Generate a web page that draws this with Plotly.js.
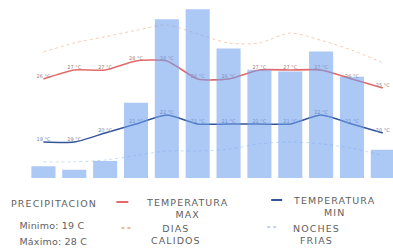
<!DOCTYPE html>
<html>
<head>
<meta charset="utf-8">
<script src="https://cdn.plot.ly/plotly-3.0.1.min.js"></script>
<style>
html,body{margin:0;padding:0;background:#fff;}
#chart{width:393px;height:250px;}
.annotation-text{letter-spacing:1.1px;}
.annotation[data-index="1"] .annotation-text,
.annotation[data-index="2"] .annotation-text{letter-spacing:0.2px;}
</style>
</head>
<body>
<div id="chart"></div>
<script>
// ---- data ----
const months = ['Ene','Feb','Mar','Abr','May','Jun','Jul','Ago','Sep','Oct','Nov','Dic'];
const precipitacion = [20, 14, 29, 128, 270, 287, 220, 184, 181, 215, 172, 48];
const tempMax = [26, 27, 27, 28, 28, 26, 26, 27, 27, 27, 26, 25];
const tempMin = [19, 19, 20, 21, 22, 21, 21, 21, 21, 22, 21, 20];
const diasCalidos = [29, 30, 30.7, 31.4, 32, 31, 30, 30, 31.1, 30.3, 29.2, 27.8];
const nochesFrias = [16.8, 16.8, 17, 17.5, 18, 18, 18.2, 18.8, 19, 18.8, 18.3, 17.5];
const legendText = {
  precip: 'PRECIPITACION',
  minimo: 'Minimo: 19 C',
  maximo: 'Máximo: 28 C',
  tmax: 'TEMPERATURA<br>MAX',
  tmin: 'TEMPERATURA<br>MIN',
  calidos: 'DIAS<br>CALIDOS',
  frias: 'NOCHES<br>FRIAS'
};

// ---- layout helpers (pixel -> paper) ----
const W = 393, H = 250, ML = 27.5, MR = 0, MT = 5, MB = 72;
const PW = W - ML - MR, PH = H - MT - MB;
const px = x => (x - ML) / PW;
const py = y => (H - MB - y) / PH;

const fmt = v => v + ' °C';
const textGray = '#5f5f5f';

const traces = [
  {x: months, y: diasCalidos, type: 'scatter', mode: 'lines',
   line: {color: '#f0a27a', width: 1, dash: 'dot', shape: 'spline', smoothing: 0.8},
   opacity: 0.55, hoverinfo: 'skip'},
  {x: months, y: nochesFrias, type: 'scatter', mode: 'lines',
   line: {color: '#a9c8ec', width: 1, dash: 'dot', shape: 'spline', smoothing: 0.8},
   opacity: 0.6, hoverinfo: 'skip'},
  {x: months, y: tempMax, type: 'scatter', mode: 'lines+text',
   text: tempMax.map(fmt), textposition: 'top center',
   textfont: {family: 'DejaVu Sans', size: 5, color: '#a08080'},
   line: {color: '#e36a6a', width: 1.6, shape: 'spline', smoothing: 0.6}},
  {x: months, y: tempMin, type: 'scatter', mode: 'lines+text',
   text: tempMin.map(fmt), textposition: 'top center',
   textfont: {family: 'DejaVu Sans', size: 5, color: '#7a80a0'},
   line: {color: '#34549a', width: 1.5, shape: 'spline', smoothing: 0.6}},
  {x: months, y: precipitacion, type: 'bar', yaxis: 'y2',
   marker: {color: 'rgba(112,160,238,0.58)', line: {width: 0}}}
];

const ann = (text, x, y, xanchor, size) => ({
  text, x: px(x), y: py(y), xref: 'paper', yref: 'paper',
  xanchor, yanchor: 'middle', showarrow: false, align: 'center',
  font: {family: 'DejaVu Sans', size, color: textGray}
});

const seg = (x0, x1, y, color, width, dash) => ({
  type: 'line', xref: 'paper', yref: 'paper',
  x0: px(x0), x1: px(x1), y0: py(y), y1: py(y),
  line: {color, width, dash}
});

const layout = {
  width: W, height: H,
  margin: {l: ML, r: MR, t: MT, b: MB, pad: 0},
  paper_bgcolor: '#fff', plot_bgcolor: 'rgba(0,0,0,0)',
  showlegend: false,
  bargap: 0.22,
  xaxis: {type: 'category', range: [-0.5, 11.33], visible: false, fixedrange: true},
  yaxis: {range: [15, 34.22], visible: false, fixedrange: true},
  yaxis2: {range: [0, 294.1], overlaying: 'y', visible: false, fixedrange: true},
  annotations: [
    ann(legendText.precip, 8, 203, 'left', 9.5),
    ann(legendText.minimo, 11, 226, 'left', 9.5),
    ann(legendText.maximo, 11, 241, 'left', 9.5),
    ann(legendText.tmax, 187, 208, 'center', 9.5),
    ann(legendText.calidos, 176, 234, 'center', 9.5),
    ann(legendText.tmin, 334, 206, 'center', 9.5),
    ann(legendText.frias, 316, 234, 'center', 9.5)
  ],
  shapes: [
    seg(116, 128, 202, '#e36a6a', 2, 'solid'),
    seg(121, 133, 228, '#f0a27a', 1.5, 'dot'),
    seg(271, 282, 200, '#34549a', 2, 'solid'),
    seg(267, 279, 227, '#a9c8ec', 1.5, 'dot')
  ]
};

Plotly.newPlot('chart', traces, layout, {displayModeBar: false, staticPlot: true});
</script>
</body>
</html>
